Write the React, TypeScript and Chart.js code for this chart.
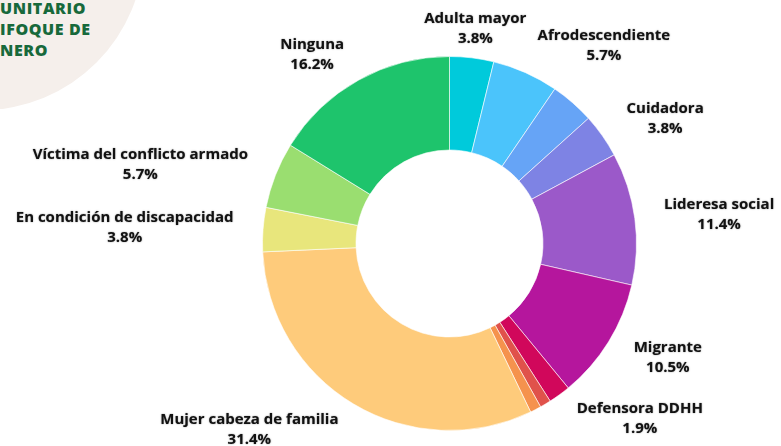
import React, { useEffect, useRef } from "react";
import { Chart, registerables } from "chart.js";

Chart.register(...registerables);

const categories = [
  "Adulta mayor",
  "Afrodescendiente",
  "",
  "Cuidadora",
  "Lideresa social",
  "Migrante",
  "Defensora DDHH",
  "",
  "",
  "Mujer cabeza de familia",
  "En condición de discapacidad",
  "Víctima del conflicto armado",
  "Ninguna",
];
const counts = [4, 6, 4, 4, 12, 11, 2, 1, 1, 33, 4, 6, 17];
const colors = [
  "#00cadb",
  "#4bc4fb",
  "#66a4f6",
  "#7e83e4",
  "#9b59c9",
  "#b5169d",
  "#d1075b",
  "#e0524b",
  "#f5924d",
  "#fecb7b",
  "#e8e67c",
  "#9ade70",
  "#1ec46c",
];

const labelPlugin = {
  id: "outLabels",
  afterDatasetsDraw(chart: any) {
    const ctx = chart.ctx as CanvasRenderingContext2D;
    const meta = chart.getDatasetMeta(0);
    const data = chart.data.datasets[0].data as number[];
    const total = data.reduce((a, b) => a + b, 0);
    ctx.save();
    ctx.font = 'bold 15px "Open Sans"';
    ctx.textBaseline = "middle";
    ctx.fillStyle = "#121212";
    ctx.shadowColor = "rgba(0,0,0,0.5)";
    ctx.shadowBlur = 1.5;
    meta.data.forEach((arc: any, i: number) => {
      const name = chart.data.labels[i] as string;
      if (!name) return;
      const p = arc.getProps(["x", "y", "startAngle", "endAngle", "outerRadius"], true);
      const mid = (p.startAngle + p.endAngle) / 2;
      const r = p.outerRadius + 29.5;
      const vx = Math.cos(mid);
      const px = p.x + r * vx;
      const py = p.y + r * Math.sin(mid);
      const pct = ((data[i] / total) * 100).toFixed(1) + "%";
      const w = Math.max(ctx.measureText(name).width, ctx.measureText(pct).width);
      let cx: number;
      if (Math.abs(vx) < 0.2) cx = px;
      else if (vx > 0) cx = px + w / 2;
      else cx = px - w / 2;
      ctx.textAlign = "center";
      ctx.fillText(name, cx, py - 10);
      ctx.fillText(pct, cx, py + 10);
    });
    ctx.restore();
  },
};

export default function App() {
  const ref = useRef<HTMLCanvasElement | null>(null);
  useEffect(() => {
    if (!ref.current) return;
    const chart = new Chart(ref.current, {
      type: "doughnut",
      data: {
        labels: categories,
        datasets: [
          {
            data: counts,
            backgroundColor: colors,
            borderColor: "rgba(255,255,255,0.6)",
            borderWidth: 1,
          },
        ],
      },
      options: {
        animation: false,
        responsive: false,
        cutout: "50%",
        layout: { padding: { left: 262, right: 144, top: 56, bottom: 15 } },
        plugins: {
          legend: { display: false },
          tooltip: { enabled: false },
        },
      },
      plugins: [labelPlugin],
    });
    return () => chart.destroy();
  }, []);

  return (
    <div
      style={{
        position: "fixed",
        left: 0,
        top: 0,
        width: 781,
        height: 446,
        overflow: "hidden",
        background: "#fff",
      }}
    >
      <div
        style={{
          position: "absolute",
          left: -180,
          top: -214,
          width: 324,
          height: 324,
          borderRadius: "50%",
          background: "#f5efeb",
        }}
      />
      <div
        style={{
          position: "absolute",
          left: 0,
          top: -2,
          fontFamily: '"Open Sans"',
          fontWeight: 800,
          fontSize: 16,
          lineHeight: "21px",
          color: "#17693b",
          letterSpacing: 0.6,
        }}
      >
        <div>UNITARIO</div>
        <div>IFOQUE DE</div>
        <div>NERO</div>
      </div>
      <canvas
        ref={ref}
        width={781}
        height={446}
        style={{ position: "absolute", left: 0, top: 0 }}
      />
    </div>
  );
}
